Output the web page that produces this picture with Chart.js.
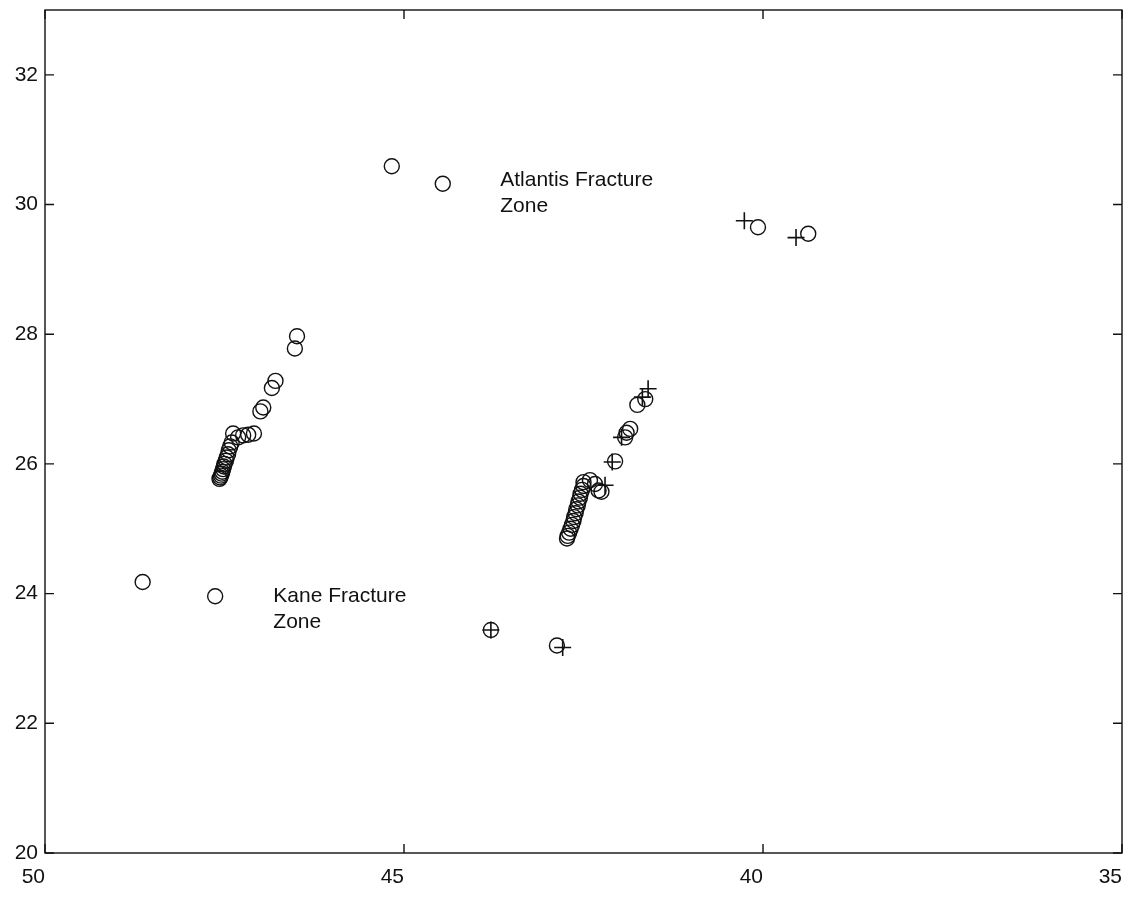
<!DOCTYPE html>
<html>
<head>
<meta charset="utf-8">
<script src="https://cdn.jsdelivr.net/npm/chart.js@4.4.1/dist/chart.umd.min.js"></script>
<style>
  html, body { margin: 0; padding: 0; background: #fff; }
  #wrap { width: 1129px; height: 898px; }
</style>
</head>
<body>
<div id="wrap"><canvas id="c" width="1129" height="898"></canvas></div>
<script>
// tick labels
const xTicks = [50, 45, 40, 35];
const yTicks = [20, 22, 24, 26, 28, 30, 32];

// open circles (longitude W, latitude N)
const circleLon = [
  48.64, 47.63, 45.17, 44.46, 40.07, 39.37, 43.79, 42.87,
  // western cluster
  46.49, 46.52, 46.79, 46.84, 46.96, 47.00, 47.09, 47.17, 47.24, 47.31, 47.38,
  47.40, 47.42, 47.44, 47.45, 47.47, 47.48, 47.50, 47.51, 47.52, 47.53, 47.54, 47.55, 47.56, 47.57,
  // eastern cluster
  41.64, 41.75, 41.85, 41.90, 41.92, 42.06,
  42.50, 42.41, 42.34, 42.29, 42.25,
  42.50, 42.52, 42.54, 42.55, 42.57, 42.58, 42.60, 42.61, 42.63, 42.64, 42.66, 42.68, 42.70, 42.72, 42.73
];
const circleLat = [
  24.18, 23.96, 30.59, 30.32, 29.65, 29.55, 23.44, 23.20,
  27.97, 27.78, 27.28, 27.17, 26.87, 26.81, 26.47, 26.45, 26.44, 26.41, 26.47,
  26.33, 26.27, 26.21, 26.15, 26.10, 26.05, 26.00, 25.96, 25.92, 25.88, 25.85, 25.82, 25.79, 25.77,
  27.00, 26.91, 26.54, 26.48, 26.41, 26.04,
  25.72, 25.75, 25.69, 25.59, 25.57,
  25.66, 25.60, 25.54, 25.48, 25.42, 25.36, 25.30, 25.24, 25.18, 25.12, 25.06, 25.00, 24.94, 24.89, 24.85
];

// plus markers
const plusLon = [40.26, 39.54, 43.79, 42.79, 41.60, 41.68, 41.97, 42.10, 42.20];
const plusLat = [29.75, 29.49, 23.44, 23.17, 27.16, 27.03, 26.41, 26.03, 25.67];

// text annotations (data coordinates, baseline of first line)
const notes = [
  { lon: 43.66, lat: 30.29, lines: ['Atlantis Fracture', 'Zone'] },
  { lon: 46.82, lat: 23.87, lines: ['Kane Fracture', 'Zone'] }
];

const ink = '#111';
const fontFam = '"Liberation Sans", Arial, sans-serif';
const toPts = (xs, ys) => xs.map((x, i) => ({ x, y: ys[i] }));

// box + inward ticks on all four sides, plus the zone labels
const frame = {
  id: 'frame',
  afterDraw(chart) {
    const { ctx, chartArea: a, scales } = chart;
    const tl = 9;
    ctx.save();
    ctx.strokeStyle = ink;
    ctx.lineWidth = 1.4;
    ctx.strokeRect(a.left, a.top, a.right - a.left, a.bottom - a.top);
    ctx.beginPath();
    xTicks.forEach(v => {
      const px = scales.x.getPixelForValue(v);
      ctx.moveTo(px, a.bottom); ctx.lineTo(px, a.bottom - tl);
      ctx.moveTo(px, a.top); ctx.lineTo(px, a.top + tl);
    });
    yTicks.forEach(v => {
      const py = scales.y.getPixelForValue(v);
      ctx.moveTo(a.left, py); ctx.lineTo(a.left + tl, py);
      ctx.moveTo(a.right, py); ctx.lineTo(a.right - tl, py);
    });
    ctx.stroke();

    ctx.fillStyle = ink;
    ctx.font = '21px ' + fontFam;
    ctx.textAlign = 'left';
    ctx.textBaseline = 'alphabetic';
    notes.forEach(n => {
      const px = scales.x.getPixelForValue(n.lon);
      const py = scales.y.getPixelForValue(n.lat);
      n.lines.forEach((t, i) => ctx.fillText(t, px, py + i * 26));
    });
    ctx.restore();
  }
};

new Chart(document.getElementById('c'), {
  type: 'scatter',
  data: {
    datasets: [
      {
        data: toPts(circleLon, circleLat),
        pointStyle: 'circle', pointRadius: 7.5, pointBorderWidth: 1.4,
        borderColor: ink, backgroundColor: 'rgba(0,0,0,0)'
      },
      {
        data: toPts(plusLon, plusLat),
        pointStyle: 'cross', pointRadius: 8.5, pointBorderWidth: 1.6,
        borderColor: ink, backgroundColor: 'rgba(0,0,0,0)'
      }
    ]
  },
  options: {
    responsive: false,
    animation: false,
    layout: { autoPadding: false, padding: { top: 10, right: 7, left: 0, bottom: 0 } },
    plugins: { legend: { display: false }, tooltip: { enabled: false } },
    scales: {
      x: {
        type: 'linear', reverse: true, min: 35, max: 50,
        afterBuildTicks: s => { s.ticks = xTicks.map(v => ({ value: v })); },
        afterFit: s => { s.height = 45; s.paddingLeft = 0; s.paddingRight = 0; },
        grid: { display: false, drawTicks: false },
        border: { display: false },
        ticks: { color: ink, padding: 12, maxRotation: 0, align: 'end', font: { size: 21, family: fontFam } }
      },
      y: {
        type: 'linear', min: 20, max: 33,
        afterBuildTicks: s => { s.ticks = yTicks.map(v => ({ value: v })); },
        afterFit: s => { s.width = 45; s.paddingTop = 0; s.paddingBottom = 0; },
        grid: { display: false, drawTicks: false },
        border: { display: false },
        ticks: { color: ink, padding: 7, font: { size: 21, family: fontFam } }
      }
    }
  },
  plugins: [frame]
});
</script>
</body>
</html>
